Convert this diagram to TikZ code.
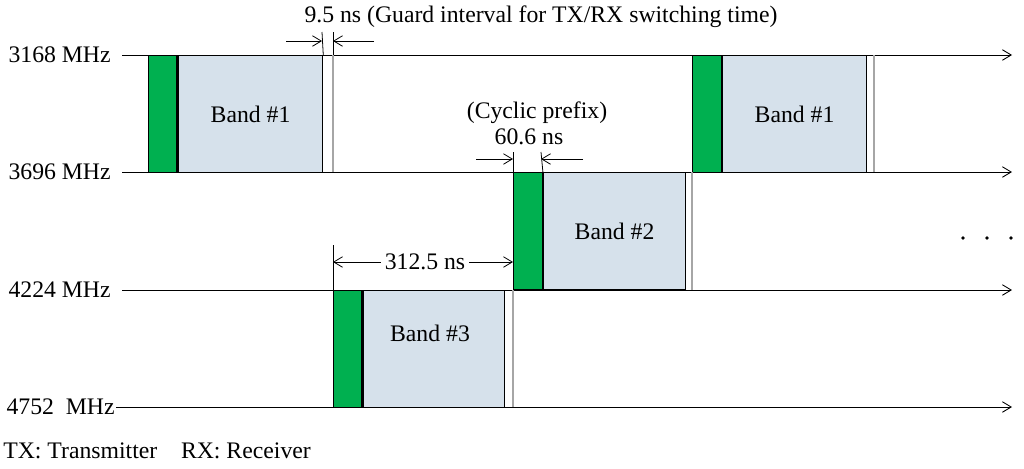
\documentclass[tikz,border=0pt]{standalone}
\usepackage{fontspec}
\setmainfont{Liberation Serif}
\usetikzlibrary{positioning, arrows.meta}
\definecolor{txgreen}{RGB}{0,176,80}
\definecolor{rxblue}{RGB}{214,225,235}
\tikzset{
  freqline/.style={line width=0.5pt, -{Straight Barb[length=5pt,width=6pt]}},
  dimline/.style={line width=0.45pt, -{Straight Barb[length=5pt,width=6pt]}},
  extline/.style={line width=0.45pt},
  guardline/.style={line width=0.7pt, gray!70},
  txbox/.style={draw, line width=0.8pt, fill=txgreen, anchor=north west,
    minimum width=0.57cm, minimum height=2.34cm, inner sep=0pt},
  rxbox/.style={draw, line width=0.8pt, fill=rxblue, anchor=north west,
    minimum width=2.88cm, minimum height=2.34cm, inner sep=0pt},
  freqlabel/.style={anchor=east, inner sep=0pt},
}
\begin{document}
\begin{tikzpicture}[x=0.02cm, y=-0.02cm, font=\fontsize{13.5}{15}\selectfont]
        \useasboundingbox (0,0) rectangle (1024,468);

        % frequency lines
        \foreach \name/\yy/\xl/\gap/\txt in {a/55/111/11/{3168 MHz}, b/172/111/11/{3696 MHz},
                                               c/290/111/11/{4224 MHz}, d/407/115/1/{4752\ \ MHz}} {
          \node[freqlabel] (lab\name) at (\xl,\yy) {\txt};
          \coordinate (end\name) at (1012,\yy);
          \draw[freqline] (lab\name.east) ++(\gap,0) coordinate (st\name) -- (end\name);
        }

        % Band #1
        \node[txbox] (tx1) at (148,55) {};
        \node[rxbox] (rx1) at (tx1.north east) {Band \#1};
        % Band #3
        \node[txbox] (tx3) at (333,290) {};
        \node[rxbox, minimum width=2.82cm] (rx3) at (tx3.north east) {};
        \node (band3) at (430,333) {Band \#3};
        % Band #2
        \node[txbox] (tx2) at (513,172) {};
        \node[rxbox, minimum width=2.84cm] (rx2) at (tx2.north east) {Band \#2};
        % Band #1 again
        \node[txbox] (tx4) at (692,55) {};
        \node[rxbox] (rx4) at (tx4.north east) {Band \#1};

        % guard lines
        \coordinate (g1t) at (333,55);  \coordinate (g1b) at (333,172);
        \coordinate (g3t) at (513,290); \coordinate (g3b) at (513,407);
        \coordinate (g2t) at (692,172); \coordinate (g2b) at (692,290);
        \coordinate (g4t) at (874,55);  \coordinate (g4b) at (874,172);
        \draw[guardline] (g1t) -- (g1b);
        \draw[guardline] (g3t) -- (g3b);
        \draw[guardline] (g2t) -- (g2b);
        \draw[guardline] (g4t) -- (g4b);

        % guard interval
        \coordinate (ga) at (322,32); \coordinate (gb) at (333,32);
        \coordinate (gal) at (286,41); \coordinate (gbr) at (374,41);
        \draw[extline] (ga) -- (rx1.north east);
        \draw[extline] (gb) -- (g1t);
        \draw[dimline] (gal) -- (gal -| ga);
        \draw[dimline] (gbr) -- (gbr -| gb);
        \node (guard) at (541,17) {9.5 ns\ (Guard interval for TX/RX switching time)};

        % cyclic prefix
        \coordinate (ca) at (513,152); \coordinate (cb) at (541,152);
        \coordinate (cal) at (476,159); \coordinate (cbr) at (583,159);
        \draw[extline] (ca) -- (tx2.north west);
        \draw[extline] (cb) -- (tx2.north east);
        \draw[dimline] (cal) -- (cal -| ca);
        \draw[dimline] (cbr) -- (cbr -| cb);
        \node (cp) at (537,113) {(Cyclic prefix)};
        \node (cpv) at (529,137) {60.6 ns};

        % symbol period
        \coordinate (pa) at (333,245);
        \draw[extline] (pa) -- (tx3.north west);
        \node[fill=white, inner xsep=2pt] (per) at (425,262) {312.5 ns};
        \draw[dimline] (per.west) -- (per.west -| pa);
        \draw[dimline] (per.east) -- (per.east -| tx2.west);

        % more bands
        \foreach \xx in {963,987,1011} \fill (\xx,238) circle (1.1pt);

        % legend
        \node[anchor=base west, inner sep=0pt] (leg) at (3,458) {TX: Transmitter\ \ \ \ RX: Receiver};
    \end{tikzpicture}
\end{document}
